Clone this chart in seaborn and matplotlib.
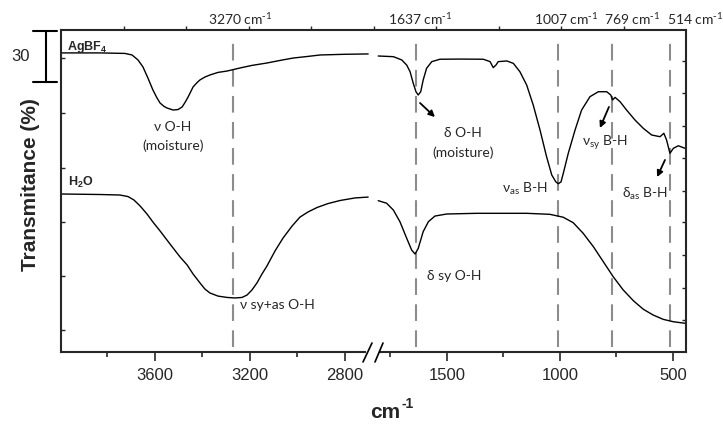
import numpy as np
import pandas as pd
import matplotlib
matplotlib.use("Agg")
import matplotlib.pyplot as plt
import matplotlib.transforms as mtransforms
from matplotlib.lines import Line2D
import seaborn as sns

# ---- FTIR spectra, high-wavenumber window (cm-1, transmittance %) ----
hi_wn_agbf4 = [3995, 3831, 3726, 3696, 3671, 3650, 3629, 3608, 3591, 3578, 3561,
               3549, 3523, 3502, 3485, 3473, 3460, 3439, 3422, 3410, 3389, 3368,
               3334, 3296, 3241, 3191, 3128, 3073, 3018, 2959, 2904, 2799, 2702]
hi_t_agbf4 = [174.9, 174.9, 174.6, 173.7, 170.8, 166.7, 160.2, 153.2, 148.6, 145.6,
              143.6, 142.7, 141.5, 141.8, 143.3, 145.9, 149.1, 155.0, 157.6, 159.1,
              160.8, 162.0, 163.5, 164.3, 166.1, 167.6, 169.0, 170.5, 171.9, 172.8,
              173.7, 174.1, 174.3]

hi_wn_h2o = [3995, 3831, 3747, 3713, 3688, 3662, 3633, 3608, 3578, 3549, 3523, 3494,
             3464, 3439, 3410, 3389, 3368, 3334, 3296, 3262, 3233, 3212, 3191, 3170,
             3149, 3128, 3094, 3060, 3022, 2989, 2955, 2917, 2871, 2820, 2757, 2702]
hi_t_h2o = [92.4, 92.1, 91.8, 90.9, 88.9, 85.4, 80.7, 76.0, 70.8, 65.5, 60.8, 55.6,
            50.9, 45.6, 40.4, 36.8, 34.5, 32.7, 31.9, 31.6, 31.9, 33.3, 36.3, 40.4,
            45.6, 50.3, 59.1, 66.7, 73.7, 78.9, 81.9, 84.5, 86.8, 88.6, 90.1, 90.6]

# ---- low-wavenumber window ----
lo_wn_agbf4 = [1804, 1737, 1700, 1678, 1663, 1649, 1637, 1627, 1616, 1605, 1590, 1567,
               1531, 1442, 1339, 1309, 1295, 1283, 1273, 1235, 1206, 1177, 1147, 1118,
               1088, 1059, 1036, 1018, 1007, 995, 985, 963, 933, 904, 867, 830, 793,
               775, 767, 756, 734, 705, 668, 631, 594, 557, 540, 528, 513, 498, 476, 446]
lo_t_agbf4 = [173.1, 172.7, 170.8, 167.8, 163.9, 157.1, 152.2, 150.3, 152.2, 159.1,
              165.9, 169.8, 171.2, 171.3, 171.2, 169.8, 166.3, 167.8, 169.8, 170.2,
              168.8, 163.9, 156.1, 144.4, 129.8, 114.2, 103.5, 99.5, 98.4, 99.5,
              104.5, 116.2, 129.8, 141.5, 149.3, 152.2, 152.2, 150.3, 147.4, 148.9,
              146.4, 141.5, 135.7, 130.8, 126.9, 125.9, 127.9, 124.0, 116.2, 119.1,
              120.6, 119.1]

lo_wn_h2o = [1804, 1767, 1737, 1708, 1678, 1656, 1641, 1627, 1605, 1582, 1553, 1501,
             1368, 1147, 1044, 985, 941, 897, 852, 808, 764, 720, 675, 631, 587, 543,
             498, 446]
lo_t_h2o = [88.5, 87.0, 83.0, 76.2, 66.5, 59.6, 57.3, 60.6, 70.4, 76.2, 79.5, 80.7,
            81.1, 81.1, 80.5, 78.8, 75.6, 69.4, 61.6, 52.8, 44.0, 36.3, 30.0, 25.0,
            21.6, 19.1, 17.7, 16.8]

peak_marks = [3270, 1637, 1007, 769, 514]
hi_major = [3600, 3200, 2800]
hi_minor = [3800, 3400, 3000]
lo_major = [1500, 1000, 500]
lo_minor = [1750, 1250, 750]
scale_bar = 30

frames = []
for win, sample, wn, tr in [("hi", "AgBF4", hi_wn_agbf4, hi_t_agbf4),
                            ("hi", "H2O", hi_wn_h2o, hi_t_h2o),
                            ("lo", "AgBF4", lo_wn_agbf4, lo_t_agbf4),
                            ("lo", "H2O", lo_wn_h2o, lo_t_h2o)]:
    frames.append(pd.DataFrame({"wn": wn, "T": tr, "sample": sample, "window": win}))
df = pd.concat(frames, ignore_index=True)

sns.set_style("ticks")
plt.rcParams["font.family"] = ["Liberation Sans", "DejaVu Sans"]
plt.rcParams["mathtext.default"] = "regular"
ANN = ["Lato", "DejaVu Sans"]

W, H = 723, 434
fig = plt.figure(figsize=(W / 100, H / 100), dpi=100)
x0, x_mid, x1 = 61, 371, 686
y_top, y_bot = 30, 352
axt = fig.add_axes([x0 / W, 1 - y_bot / H, (x1 - x0) / W, (y_bot - y_top) / H])
ax1 = fig.add_axes([x0 / W, 1 - y_bot / H, (x_mid - x0) / W, (y_bot - y_top) / H])
ax2 = fig.add_axes([x_mid / W, 1 - y_bot / H, (x1 - x_mid) / W, (y_bot - y_top) / H])

# frame overlay: continuous top border with evenly spaced ticks
axt.set_xlim(0, 1)
axt.set_ylim(0, 1)
axt.patch.set_visible(False)
for s in ["left", "right", "bottom"]:
    axt.spines[s].set_visible(False)
axt.spines["top"].set_linewidth(1.5)
axt.set_yticks([])
axt.set_xticks(np.arange(1, 10) / 10)
axt.tick_params(axis="x", top=True, bottom=False, labeltop=False, labelbottom=False,
                direction="out", length=3, width=1)

pal = {"AgBF4": "black", "H2O": "black"}
for ax, win in [(ax1, "hi"), (ax2, "lo")]:
    sns.lineplot(data=df[df["window"] == win], x="wn", y="T", hue="sample",
                 palette=pal, estimator=None, lw=1.0, legend=False, ax=ax)
    ax.patch.set_visible(False)
    ax.set_ylim(0, 188.3)
    ax.set_xlabel("")
    ax.set_ylabel("")
    ax.spines["top"].set_visible(False)
    ax.spines["bottom"].set_linewidth(1.5)

ax1.set_xlim(3995, 2690)
ax2.set_xlim(1836, 442)

ax1.spines["right"].set_visible(False)
ax1.spines["left"].set_linewidth(1.5)
ax1.spines["bottom"].set_bounds(3995, 2715)
ax2.spines["left"].set_visible(False)
ax2.spines["right"].set_linewidth(1.5)
ax2.spines["bottom"].set_bounds(1796, 442)

ax1.set_xticks(hi_major)
ax1.set_xticks(hi_minor, minor=True)
ax2.set_xticks(lo_major)
ax2.set_xticks(lo_minor, minor=True)
for ax in (ax1, ax2):
    ax.tick_params(axis="x", which="major", direction="out", length=6.5, width=1.2,
                   labelsize=12, pad=5, top=False)
    ax.tick_params(axis="x", which="minor", direction="out", length=3.5, width=1.2,
                   top=False)

ax1.set_yticks([12.9, 44.4, 76.0, 107.6, 139.8, 171.9])
ax1.tick_params(axis="y", direction="in", length=3, width=1, labelleft=False,
                left=True, right=False)
ax2.set_yticks([18.7, 37.4, 56.7, 76.0, 94.2, 113.5, 132.2, 151.5, 170.2])
ax2.yaxis.tick_right()
ax2.tick_params(axis="y", direction="in", length=3, width=1, labelright=False,
                right=True, left=False)

# peak position markers
for w in peak_marks:
    ax = ax1 if w > 2000 else ax2
    ax.axvline(w, ymin=0.016, ymax=0.984, color="#8c8c8c", lw=1.5, dashes=(8, 4.5),
               zorder=1)

label_shift = {3270: 4.9, 1637: 2.9, 1007: 5.5, 769: 14.3, 514: 18.0}
for w in peak_marks:
    ax = ax1 if w > 2000 else ax2
    ax.annotate(f"{w} cm$^{{\\text{{-}}1}}$", xy=(w, 1), xycoords=ax.get_xaxis_transform(),
                xytext=(label_shift[w], 7.9), textcoords="offset points",
                ha="center", va="center", fontsize=10, family=ANN,
                annotation_clip=False)

# sample names
ax1.text(3970, 178.4, "AgBF$_4$", fontsize=9, fontweight="bold", ha="left", va="center")
ax1.text(3966, 99.4, "H$_2$O", fontsize=9, fontweight="bold", ha="left", va="center")

# band assignments
ax1.text(3523, 131.6, "ν O-H", fontsize=10, family=ANN, ha="center", va="center")
ax1.text(3523, 120.5, "(moisture)", fontsize=10, family=ANN, ha="center", va="center")
ax1.text(3241, 27.5, "ν sy+as O-H", fontsize=10, family=ANN, ha="left", va="center")

ax2.text(1429, 128.1, "δ O-H", fontsize=10, family=ANN, ha="center", va="center")
ax2.text(1429, 116.4, "(moisture)", fontsize=10, family=ANN, ha="center", va="center")
ax2.text(1155, 95.3, "ν$_{as}$ B-H", fontsize=10, family=ANN, ha="center", va="center")
ax2.text(800, 122.2, "ν$_{sy}$ B-H", fontsize=10, family=ANN, ha="center", va="center")
ax2.text(623, 92.7, "δ$_{as}$ B-H", fontsize=10, family=ANN, ha="center", va="center")
ax2.text(1588, 44.4, "δ sy O-H", fontsize=10, family=ANN, ha="left", va="center")

arrow = dict(arrowstyle="-|>", color="black", lw=1.3, mutation_scale=9,
             shrinkA=0, shrinkB=0)
ax2.annotate("", xy=(1553, 137.4), xytext=(1619, 145.6), arrowprops=arrow)
ax2.annotate("", xy=(823, 131.0), xytext=(783, 143.3), arrowprops=arrow)
ax2.annotate("", xy=(570, 102.3), xytext=(535, 112.3), arrowprops=arrow)

# 30 % scale bar
bt = mtransforms.blended_transform_factory(ax1.transAxes, ax1.transData)
top_v, bot_v = 188.0, 188.0 - scale_bar
ax1.plot([-0.048, -0.048], [bot_v, top_v], transform=bt, clip_on=False, color="black", lw=1.5)
for v in (bot_v, top_v):
    ax1.plot([-0.090, -0.013], [v, v], transform=bt, clip_on=False, color="black", lw=1.5)
ax1.text(-0.132, (top_v + bot_v) / 2, str(scale_bar), transform=bt, fontsize=12,
         ha="center", va="center")

# axis break marks
for xa, xb in [(363, 372), (375, 383)]:
    fig.add_artist(Line2D([xa / W, xb / W], [1 - 362 / H, 1 - 343 / H],
                          transform=fig.transFigure, color="black", lw=1.2))

fig.text(31 / W, 1 - 185 / H, "Transmitance (%)", rotation=90, fontsize=15,
         fontweight="bold", ha="center", va="center")
fig.text(400 / W, 1 - 412 / H, "cm", fontsize=15, fontweight="bold",
         ha="right", va="center")
fig.text(402 / W, 1 - 404 / H, "-1", fontsize=10, fontweight="bold",
         ha="left", va="center")

fig.savefig("out.png", dpi=100)
